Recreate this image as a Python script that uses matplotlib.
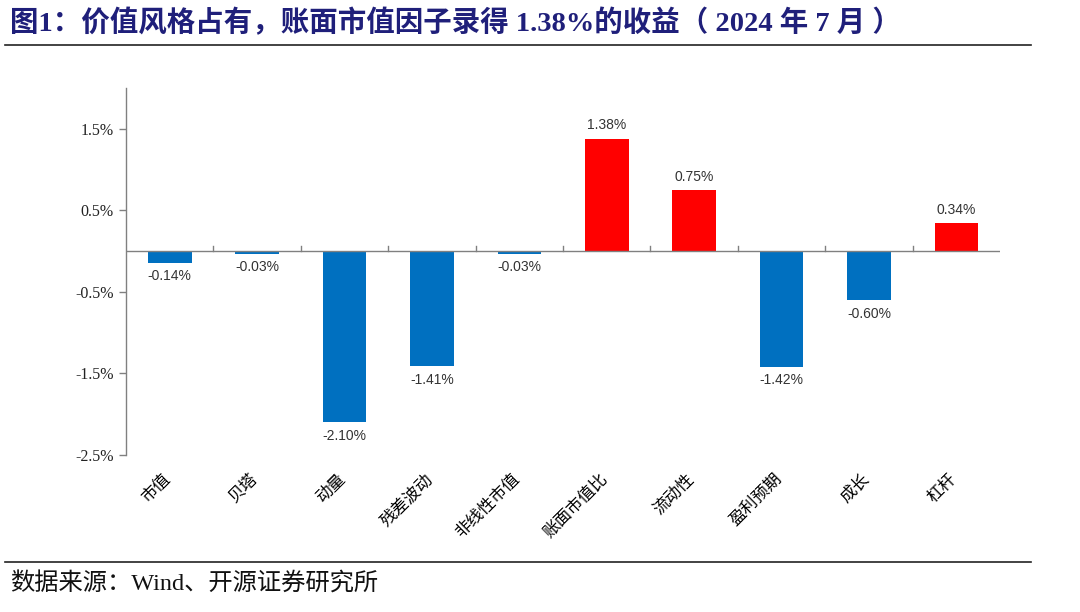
import matplotlib
matplotlib.use("Agg")
import matplotlib.pyplot as plt
from matplotlib.ticker import FixedLocator, FuncFormatter
from matplotlib.lines import Line2D
from matplotlib.transforms import ScaledTranslation

factors = ["市值", "贝塔", "动量", "残差波动", "非线性市值", "账面市值比", "流动性", "盈利预期", "成长", "杠杆"]
returns = [-0.14, -0.03, -2.10, -1.41, -0.03, 1.38, 0.75, -1.42, -0.60, 0.34]
y_ticks = [-2.5, -1.5, -0.5, 0.5, 1.5]

BLUE = "#0070C0"
RED = "#FF0000"
TITLE_COLOR = "#1F1F7A"
CJK = ["Noto Sans CJK SC", "DejaVu Sans"]
SERIF_CJK = ["Liberation Serif", "Noto Sans CJK SC"]

fig = plt.figure(figsize=(10.8, 6.12), dpi=100)
ax = fig.add_axes([0.1167, 0.2565, 0.8093, 0.5995])

x = list(range(len(factors)))
colors = [RED if v > 0 else BLUE for v in returns]
ax.bar(x, returns, width=0.5, color=colors, zorder=2)

for xi, v in zip(x, returns):
    if v >= 0:
        ax.text(xi, v + 0.08, f"{v:.2f}%", ha="center", va="bottom",
                fontsize=10, family="Liberation Sans", color="#333333")
    else:
        ax.text(xi, v - 0.08, f"{v:.2f}%", ha="center", va="top",
                fontsize=10, family="Liberation Sans", color="#333333")

ax.set_xlim(-0.5, len(factors) - 0.5)
ax.set_ylim(-2.5, 2.0)
ax.yaxis.set_major_locator(FixedLocator(y_ticks))
ax.yaxis.set_major_formatter(FuncFormatter(lambda v, _: f"{v:.1f}%"))
for lab in ax.get_yticklabels():
    lab.set_family("Liberation Serif")
    lab.set_fontsize(11.5)
    lab.set_color("#222222")

for s in ["top", "right", "bottom"]:
    ax.spines[s].set_visible(False)
ax.spines["left"].set_color("#808080")
ax.spines["left"].set_linewidth(1.0)
ax.tick_params(axis="y", direction="out", length=5, color="#808080", width=1.0, pad=4)

# zero axis with category divider ticks
ax.axhline(0, color="#808080", linewidth=1.0, zorder=3)
for b in [i + 0.5 for i in x[:-1]]:
    ax.plot([b, b], [0, 0.06], color="#808080", linewidth=1.0, zorder=3)

ax.set_xticks(x)
ax.set_xticklabels(factors, rotation=45, ha="right", rotation_mode="anchor",
                   family=CJK, fontsize=12)
ax.tick_params(axis="x", length=0, pad=11)
shift = ScaledTranslation(-6 / 72, 0, fig.dpi_scale_trans)
for lab in ax.get_xticklabels():
    lab.set_transform(lab.get_transform() + shift)

# title, rules and source
fig.text(0.009, 0.962, "图1：价值风格占有，账面市值因子录得 1.38%的收益（ 2024 年 7 月 ）",
         family=SERIF_CJK, fontsize=20.5, fontweight="bold", color=TITLE_COLOR,
         va="center", ha="left")
fig.add_artist(Line2D([0.005, 0.955], [0.927, 0.927], color="#222222", linewidth=1.2))
fig.add_artist(Line2D([0.005, 0.955], [0.082, 0.082], color="#222222", linewidth=1.2))
fig.text(0.009, 0.046, "数据来源：Wind、开源证券研究所", family=SERIF_CJK,
         fontsize=17.5, color="#111111", va="center", ha="left")

fig.savefig("out.png", dpi=100)
